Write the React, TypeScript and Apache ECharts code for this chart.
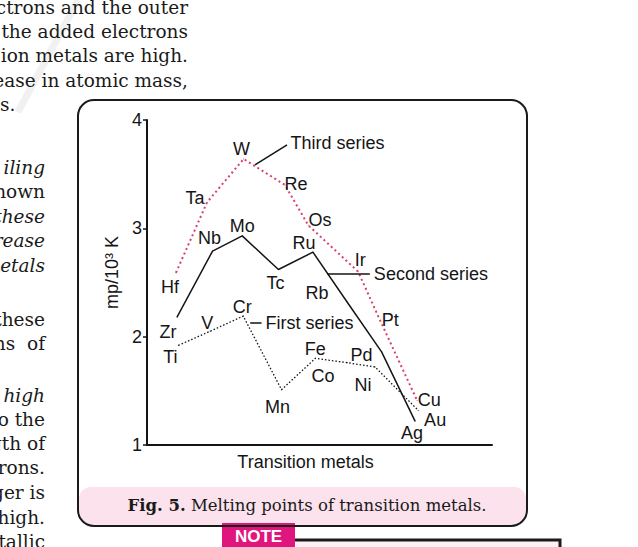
import React, { useEffect, useRef } from "react";
import * as echarts from "echarts";

// ---- data (x = position along "Transition metals", y = mp / 10^3 K) ----
const firstNames = ["Ti", "V", "Cr", "Mn", "Fe", "Co", "Ni", "Cu"];
const firstX = [0.91, 1.83, 2.79, 3.9, 4.88, 5.8, 6.61, 7.86];
const firstY = [1.92, 2.05, 2.19, 1.51, 1.8, 1.76, 1.72, 1.32];

const secondNames = ["Zr", "Nb", "Mo", "Tc", "Ru", "Rb", "Pd", "Ag"];
const secondX = [0.87, 1.9, 2.76, 3.81, 4.81, 5.8, 6.8, 7.77];
const secondY = [2.18, 2.79, 2.93, 2.62, 2.78, 2.32, 1.86, 1.22];

const thirdNames = ["Hf", "Ta", "W", "Re", "Os", "Ir", "Pt", "Au"];
const thirdX = [0.84, 1.74, 2.8, 4.0, 4.67, 6.12, 6.7, 7.83];
const thirdY = [2.59, 3.24, 3.64, 3.4, 3.03, 2.6, 2.19, 1.41];

const seriesNames = ["First series", "Second series", "Third series"];
// leader lines for series annotations, in data units [x1, y1, x2, y2]
const leaderFirst = [2.99, 2.13, 3.32, 2.13];
const leaderSecond = [5.22, 2.58, 6.46, 2.58];
const leaderThird = [3.13, 3.585, 4.06, 3.77];

const yMin = 1;
const yMax = 4;
const yInterval = 1;
const xAxisName = "Transition metals";
const yAxisName = "mp/10³ K";
const caption = "Melting points of transition metals.";

// ---- label placement (styles) ----
const labelOffsets: Record<string, [number, number]> = {
  Hf: [-6, 14], Ta: [-12, -4], W: [-2, -10], Re: [11, -1], Os: [12, -5],
  Ir: [2, -12], Pt: [12, 4], Au: [18, 19],
  Zr: [-9, 15], Nb: [-3, -13], Mo: [0, -10], Tc: [-3, 13], Ru: [-9, -9],
  Rb: [-30, -9], Pd: [-20, 3], Ag: [-3, 12],
  Ti: [-8, 12], V: [-3, -8], Cr: [-1, -9], Mn: [-4, 17], Fe: [0, -9],
  Co: [-24, 13], Ni: [-12, 18], Cu: [11, -10],
};

const SANS = "'Liberation Sans', Arial, Helvetica, sans-serif";
const SERIF = "'DejaVu Serif', 'Century Schoolbook', serif";
const INK = "#151515";
const RED = "#d83f74";

const bookLines: [string, number, number, boolean][] = [
  ["ctrons and the outer", 188, 7.5, false],
  ["the added electrons", 188, 31.5, false],
  ["ion metals are high.", 188, 55.5, false],
  ["ease in atomic mass,", 188, 80, false],
  ["s.", 0, 104, false],
  ["iling", 45, 167, true],
  ["hown", 45, 191.5, false],
  ["these", 45, 216, true],
  ["rease", 45, 240, true],
  ["etals", 45, 265, true],
  ["these", 45, 319.5, false],
  ["ns  of", 45, 343.5, false],
  ["high", 45, 395.5, true],
  ["o the", 45, 419.5, false],
  ["gth of", 45, 443.5, false],
  ["rons.", 45, 467.5, false],
  ["ger is", 45, 492, false],
  ["high.", 45, 517, false],
  ["tallic", 45, 541, false],
];

function makeData(names: string[], xs: number[], ys: number[]) {
  return names.map((n, i) => ({
    name: n,
    value: [xs[i], ys[i]],
    label: { offset: labelOffsets[n] || [0, 0] },
  }));
}

function leader(l: number[], text: string) {
  return {
    silent: true,
    symbol: ["none", "none"],
    lineStyle: { color: INK, type: "solid", width: 1.5 },
    label: {
      show: true,
      position: "end",
      distance: 4,
      formatter: text,
      fontSize: 18,
      color: INK,
      fontFamily: SANS,
    },
    emphasis: { disabled: true },
    data: [[{ coord: [l[0], l[1]] }, { coord: [l[2], l[3]] }]],
  };
}

const labelBase = {
  show: true,
  position: "inside",
  formatter: "{b}",
  fontSize: 18,
  color: INK,
  fontFamily: SANS,
};

export default function App() {
  const ref = useRef<HTMLDivElement>(null);
  useEffect(() => {
    if (!ref.current) return;
    const chart = echarts.init(ref.current, undefined, { renderer: "svg" });
    const graphics: any[] = [];
    // faint watermark stripe
    graphics.push({
      type: "line",
      z: -10,
      shape: { x1: 78, y1: 0, x2: 18, y2: 112 },
      style: { stroke: "#f1f1f1", lineWidth: 7 },
    });
    bookLines.forEach(([t, x, y, it]) => {
      graphics.push({
        type: "text",
        z: -5,
        x,
        y,
        style: {
          text: t,
          font: `${it ? "italic " : ""}18.5px ${SERIF}`,
          fill: "#1a1a1a",
          textAlign: x === 0 ? "left" : "right",
          textVerticalAlign: "middle",
        },
      });
    });
    // box
    graphics.push({
      type: "rect",
      z: -4,
      shape: { x: 78, y: 100, width: 449, height: 426, r: 16 },
      style: { fill: "#fff", stroke: "none" },
    });
    graphics.push({
      type: "rect",
      z: -3,
      shape: { x: 79, y: 487, width: 447, height: 38, r: [12, 12, 15, 15] },
      style: { fill: "#fbe2ec", stroke: "none" },
    });
    graphics.push({
      type: "rect",
      z: 10,
      shape: { x: 78, y: 100, width: 449, height: 426, r: 16 },
      style: { fill: "none", stroke: "#1a1a1a", lineWidth: 2 },
    });
    graphics.push({
      type: "text",
      z: 10,
      x: 307,
      y: 505,
      style: {
        text: "{b|Fig. 5.} " + caption,
        rich: { b: { fontWeight: "bold", fontSize: 16.5, fontFamily: SERIF, fill: "#1a1a1a" } },
        fontSize: 16.5,
        fontFamily: SERIF,
        fill: "#1a1a1a",
        textAlign: "center",
        textVerticalAlign: "middle",
      },
    });
    // NOTE tag
    graphics.push({
      type: "rect",
      z: 5,
      shape: { x: 296, y: 539, width: 264, height: 10 },
      style: { fill: "#fdf1f6", stroke: "none" },
    });
    graphics.push({
      type: "polyline",
      z: 6,
      shape: { points: [[294, 540], [560, 540], [560, 550]] },
      style: { stroke: "#1a1a1a", lineWidth: 3, fill: "none" },
    });
    graphics.push({
      type: "rect",
      z: 7,
      shape: { x: 222, y: 523, width: 73, height: 26 },
      style: { fill: "#e0167f", stroke: "none" },
    });
    graphics.push({
      type: "text",
      z: 8,
      x: 258.5,
      y: 536,
      style: {
        text: "NOTE",
        font: `bold 17px ${SANS}`,
        fill: "#fff",
        textAlign: "center",
        textVerticalAlign: "middle",
      },
    });

    chart.setOption({
      animation: false,
      backgroundColor: "#fff",
      grid: { left: 147, right: 146, top: 120, bottom: 102, containLabel: false },
      xAxis: {
        type: "value",
        min: 0,
        max: 10,
        axisLine: { show: true, lineStyle: { color: INK, width: 2 } },
        axisTick: { show: false },
        axisLabel: { show: false },
        splitLine: { show: false },
        name: xAxisName,
        nameLocation: "middle",
        nameGap: 8,
        nameTextStyle: {
          fontSize: 18,
          color: INK,
          fontFamily: SANS,
          verticalAlign: "top",
          padding: [0, 28, 0, 0],
        },
      },
      yAxis: {
        type: "value",
        min: yMin,
        max: yMax,
        interval: yInterval,
        axisLine: { show: true, lineStyle: { color: INK, width: 2 } },
        axisTick: { show: true, length: 4, inside: false, lineStyle: { color: INK, width: 1.5 } },
        axisLabel: { fontSize: 18, margin: 5, color: INK, fontFamily: SANS },
        splitLine: { show: false },
        name: yAxisName,
        nameLocation: "middle",
        nameRotate: 90,
        nameGap: 22,
        nameTextStyle: {
          fontSize: 18,
          color: INK,
          fontFamily: SANS,
          padding: [0, 0, 0, 20],
        },
      },
      graphic: graphics,
      series: [
        {
          name: seriesNames[2],
          type: "line",
          data: makeData(thirdNames, thirdX, thirdY),
          symbol: "circle",
          symbolSize: 1,
          itemStyle: { color: RED },
          lineStyle: { color: RED, type: [2, 3], width: 2 },
          label: labelBase,
          markLine: leader(leaderThird, seriesNames[2]),
          z: 3,
        },
        {
          name: seriesNames[1],
          type: "line",
          data: makeData(secondNames, secondX, secondY),
          symbol: "circle",
          symbolSize: 1,
          itemStyle: { color: INK },
          lineStyle: { color: INK, type: "solid", width: 1.5 },
          label: labelBase,
          markLine: leader(leaderSecond, seriesNames[1]),
          z: 4,
        },
        {
          name: seriesNames[0],
          type: "line",
          data: makeData(firstNames, firstX, firstY),
          symbol: "circle",
          symbolSize: 1,
          itemStyle: { color: INK },
          lineStyle: { color: INK, type: [1.5, 2], width: 1.3 },
          label: labelBase,
          markLine: leader(leaderFirst, seriesNames[0]),
          z: 4,
        },
      ],
    });
    return () => chart.dispose();
  }, []);
  return (
    <div
      ref={ref}
      style={{ position: "fixed", left: 0, top: 0, width: 638, height: 547 }}
    />
  );
}
